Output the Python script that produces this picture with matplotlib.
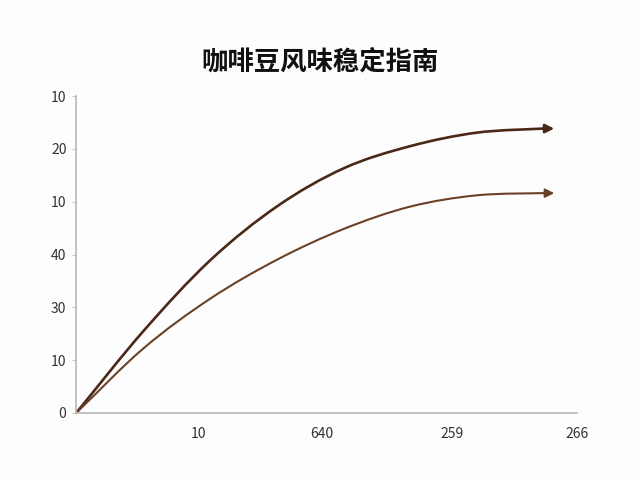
import numpy as np
import matplotlib.pyplot as plt
from matplotlib.path import Path
from matplotlib.patches import PathPatch

plt.rcParams['font.family'] = ['Noto Sans CJK SC', 'DejaVu Sans']

# data
x_vals = [0, 13.37, 26.75, 40.16, 53.45, 66.67, 79.98, 93.27]
upper_vals = [0, 1.546, 2.892, 3.918, 4.637, 5.054, 5.310, 5.387]
lower_vals = [0, 1.219, 2.165, 2.907, 3.488, 3.909, 4.123, 4.164]
arrow_x = 95.4

y_ticks = [0, 1, 2, 3, 4, 5, 6]
y_labels = ['0', '10', '30', '40', '10', '20', '10']
x_ticks = [24.4, 49.1, 75, 100]
x_labels = ['10', '640', '259', '266']


def smooth_path(xs, ys):
    # catmull-rom through the points, drawn as cubic bezier pieces
    p = np.column_stack([xs, ys])
    pts = np.vstack([2 * p[0] - p[1], p, p[-1]])
    verts = [p[0]]
    codes = [Path.MOVETO]
    for i in range(1, len(pts) - 2):
        c1 = pts[i] + (pts[i + 1] - pts[i - 1]) / 6
        c2 = pts[i + 1] - (pts[i + 2] - pts[i]) / 6
        verts += [c1, c2, pts[i + 1]]
        codes += [Path.CURVE4] * 3
    return Path(verts, codes)


fig = plt.figure(figsize=(6.4, 4.8), dpi=100)
fig.patch.set_facecolor('#fdfdfd')
ax = fig.add_axes([0.119, 0.1396, 0.783, 0.66])
ax.set_facecolor('#fdfdfd')

for y, color, lw in [(upper_vals, '#4a2818', 1.9), (lower_vals, '#6a4127', 1.5)]:
    ax.add_patch(PathPatch(smooth_path(x_vals, y), facecolor='none',
                           edgecolor=color, lw=lw, capstyle='round'))
    ax.annotate('', xy=(arrow_x, y[-1]), xytext=(x_vals[-1], y[-1]),
                arrowprops=dict(arrowstyle='-|>', color=color, lw=lw,
                                mutation_scale=13, shrinkA=0, shrinkB=0))

ax.set_xlim(0, 100)
ax.set_ylim(0, 6)
for s in ['top', 'right']:
    ax.spines[s].set_visible(False)
for s in ['left', 'bottom']:
    ax.spines[s].set_color('#b5b5b5')
    ax.spines[s].set_linewidth(1.2)

ax.set_yticks(y_ticks)
ax.set_yticklabels(y_labels)
ax.set_xticks(x_ticks)
ax.set_xticklabels(x_labels)
ax.tick_params(axis='y', length=3, color='#c8c8c8', pad=4, labelsize=10, labelcolor='#333333')
ax.tick_params(axis='x', length=0, pad=10, labelsize=10, labelcolor='#333333')

fig.text(0.5, 0.87, '咖啡豆风味稳定指南', ha='center', va='center',
         fontsize=19, fontweight='bold', color='#111111')

plt.savefig('out.png', dpi=100, facecolor=fig.get_facecolor())
